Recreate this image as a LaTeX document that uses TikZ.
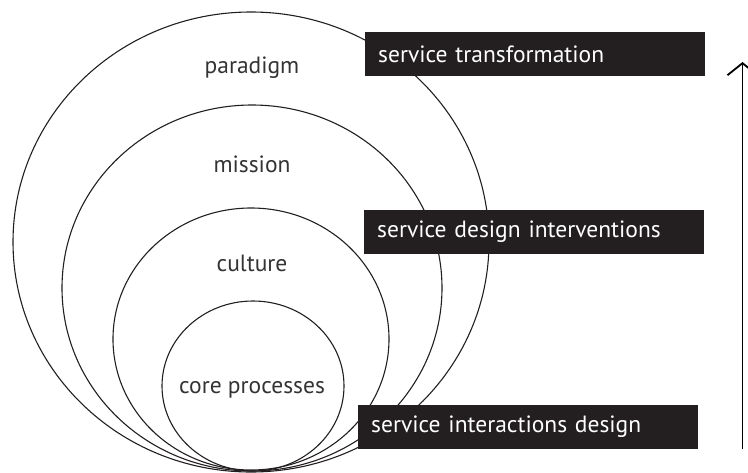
\documentclass[tikz,border=0pt]{standalone}
\usepackage{fontspec}
\setmainfont{PT Sans}
\usetikzlibrary{arrows.meta,positioning}
\definecolor{inkblack}{HTML}{231F20}
\definecolor{labgrey}{HTML}{333333}
\tikzset{
  ring/.style={draw=inkblack,line width=1.1pt},
  lab/.style={text=labgrey,font=\fontsize{23.5}{26}\selectfont,inner sep=0pt},
  tag/.style={fill=inkblack,text=white,anchor=west,minimum height=44pt,
    text width=314pt,inner xsep=13pt,align=left,font=\fontsize{23.5}{26}\selectfont},
  up/.style={line width=1.8pt,-{Straight Barb[length=12pt,width=30pt,line width=1.8pt]}},
}
\begin{document}
\begin{tikzpicture}[x=1pt,y=-1pt]
  \useasboundingbox (0,0) rectangle (748,472);
  % nested rings, all touching at the bottom
  \draw[ring] (251,242) ellipse [x radius=238,y radius=230];
  \draw[ring] (252,288) ellipse [x radius=190,y radius=183];
  \draw[ring] (251,339) ellipse [x radius=138,y radius=131];
  \draw[ring] (253,386) ellipse [x radius=91,y radius=85];
  \node[lab] (paradigm) at (252,68) {paradigm};
  \node[lab] (mission) at (252,164) {mission};
  \node[lab] (culture) at (252,263) {culture};
  \node[lab] (core) at (252,390) {core processes};
  % levels of intervention
  \node[tag] (transf) at (365,54) {service transformation};
  \node[tag] (interv) at (364,231.5) {service design interventions};
  \node[tag] (interac) at (358,427) {service interactions design};
  \coordinate (lo) at (742.5,449);
  \coordinate (hi) at (742.5,62);
  \draw[up] (lo) -- (hi);
\end{tikzpicture}
\end{document}
